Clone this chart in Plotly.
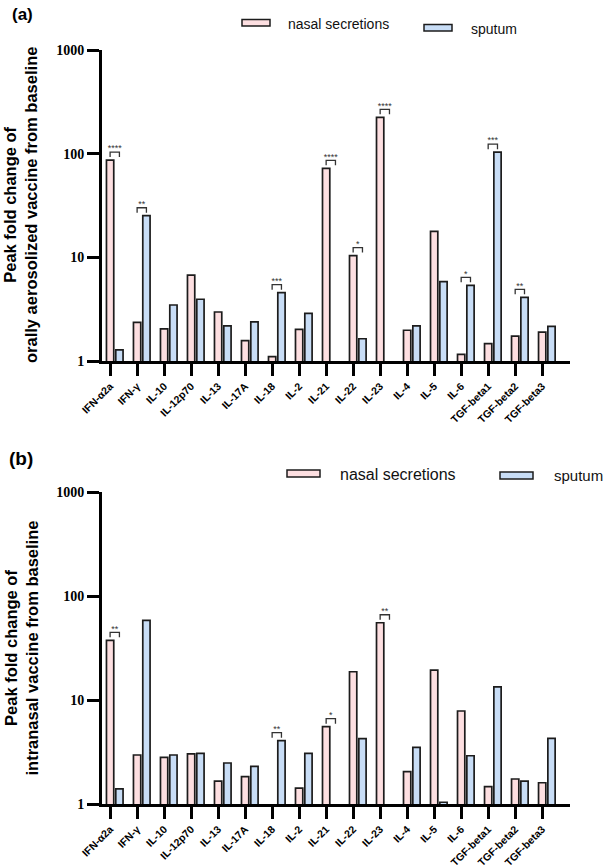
import plotly.graph_objects as go

# ---------------- data ----------------
categories = ["IFN-α2a", "IFN-γ", "IL-10", "IL-12p70", "IL-13", "IL-17A", "IL-18", "IL-2",
              "IL-21", "IL-22", "IL-23", "IL-4", "IL-5", "IL-6", "TGF-beta1", "TGF-beta2", "TGF-beta3"]

nasal_a = [86.7, 2.36, 2.04, 6.75, 2.97, 1.57, 1.10, 2.02, 72.2, 10.4, 224, 1.98, 17.8, 1.16, 1.47, 1.74, 1.90]
sputum_a = [1.28, 25.2, 3.47, 3.94, 2.18, 2.38, 4.56, 2.88, None, 1.64, None, 2.18, 5.82, 5.37, 103.5, 4.11, 2.16]
sig_a = ["****", "**", "", "", "", "", "***", "", "****", "*", "****", "", "", "*", "***", "**", ""]

nasal_b = [37.5, 2.96, 2.81, 3.03, 1.66, 1.83, None, 1.42, 5.54, 18.7, 55.3, 2.05, 19.4, 7.84, 1.47, 1.74, 1.60]
sputum_b = [1.40, 58.4, 2.96, 3.07, 2.48, 2.30, 4.06, 3.07, None, 4.25, None, 3.51, 1.04, 2.91, 13.4, 1.66, 4.28]
sig_b = ["**", "", "", "", "", "", "**", "", "*", "", "**", "", "", "", "", "", ""]

y_tick_vals = [1, 10, 100, 1000]
y_tick_text = ["1", "10", "100", "1000"]

series_names = ["nasal secretions", "sputum"]
titles = ["Peak fold change of<br>orally aerosolized vaccine from baseline",
          "Peak fold change of<br>intranasal vaccine from baseline"]

# ---------------- style ----------------
PINK = "#FDDFE1"
BLUE = "#C8DDF6"
EDGE = "#1c1c1c"
W, H = 608, 868
L, R, T, B = 102, 38, 50, 64
PW, PH = W - L - R, H - T - B


def px(x):
    return (x - L) / PW


def py(y):
    return (H - B - y) / PH


idx = list(range(len(categories)))
fig = go.Figure()

panels = [
    ("x", "y", nasal_a, sputum_a, sig_a),
    ("x2", "y2", nasal_b, sputum_b, sig_b),
]

F1 = 10 ** (8 / 104)   # bracket above tallest bar
F2 = 10 ** (5 / 104)   # bracket leg length
F3 = 10 ** (3 / 104)   # star offset

for xa, ya, nasal, sputum, sig in panels:
    fig.add_trace(go.Bar(x=idx, y=nasal, offset=-0.135, width=0.27, xaxis=xa, yaxis=ya,
                         marker=dict(color=PINK, line=dict(color=EDGE, width=1.7)),
                         name=series_names[0], showlegend=False))
    fig.add_trace(go.Bar(x=idx, y=sputum, offset=0.21, width=0.27, xaxis=xa, yaxis=ya,
                         marker=dict(color=BLUE, line=dict(color=EDGE, width=1.7)),
                         name=series_names[1], showlegend=False))
    bx, by, tx, ty, tt = [], [], [], [], []
    for i, s in enumerate(sig):
        if not s:
            continue
        top = max(v for v in (nasal[i], sputum[i]) if v is not None)
        yb = top * F1
        yl = yb / F2
        bx += [i, i, i + 0.345, i + 0.345, None]
        by += [yl, yb, yb, yl, None]
        tx.append(i + 0.1725)
        ty.append(yb * F3)
        tt.append(s)
    fig.add_trace(go.Scatter(x=bx, y=by, mode="lines", xaxis=xa, yaxis=ya,
                             line=dict(color="#333333", width=1.3), showlegend=False, hoverinfo="skip"))
    fig.add_trace(go.Scatter(x=tx, y=ty, mode="text", text=tt, textposition="middle center",
                             xaxis=xa, yaxis=ya, textfont=dict(family="Liberation Sans", size=9, color="#333333"),
                             showlegend=False, hoverinfo="skip"))

xaxis_common = dict(range=[-0.3, 17.03], tickmode="array", tickvals=idx, ticktext=categories,
                    tickangle=-45, showline=True, linewidth=3, linecolor="black",
                    ticks="outside", ticklen=12, tickwidth=3, tickcolor="black",
                    showgrid=False, zeroline=False, automargin=False,
                    tickfont=dict(family="Liberation Sans", size=10.5, color="black", weight="bold"))
yaxis_common = dict(type="log", range=[0, 3], tickmode="array", tickvals=y_tick_vals, ticktext=y_tick_text,
                    showline=True, linewidth=3, linecolor="black",
                    ticks="outside", ticklen=12, tickwidth=3, tickcolor="black",
                    showgrid=False, zeroline=False, automargin=False,
                    tickfont=dict(family="Liberation Serif", size=14, color="black", weight="bold"))

dom_a = [py(361), py(50)]
dom_b = [py(804), py(492)]

fig.update_layout(
    width=W, height=H,
    margin=dict(l=L, r=R, t=T, b=B, autoexpand=False),
    paper_bgcolor="white", plot_bgcolor="white",
    barmode="overlay",
    xaxis=dict(domain=[0, 1], anchor="y", **xaxis_common),
    yaxis=dict(domain=dom_a, anchor="x", **yaxis_common),
    xaxis2=dict(domain=[0, 1], anchor="y2", **xaxis_common),
    yaxis2=dict(domain=dom_b, anchor="x2", **yaxis_common),
    showlegend=False,
)

ann = []
shapes = []
# y-axis titles
for title, dom in zip(titles, [dom_a, dom_b]):
    ann.append(dict(text=title, textangle=-90, x=px(20.5), y=(dom[0] + dom[1]) / 2,
                    xref="paper", yref="paper", xanchor="center", yanchor="middle", showarrow=False,
                    font=dict(family="Liberation Sans", size=16.5, color="black", weight="bold")))
# panel labels
ann.append(dict(text="(a)", x=px(22), y=py(14), xref="paper", yref="paper", xanchor="center",
                yanchor="middle", showarrow=False,
                font=dict(family="Liberation Sans", size=17, color="black", weight="bold")))
ann.append(dict(text="(b)", x=px(21), y=py(458), xref="paper", yref="paper", xanchor="center",
                yanchor="middle", showarrow=False,
                font=dict(family="Liberation Sans", size=19, color="black", weight="bold")))

# custom legends: (rect x0, x1, y0, y1, color, text x, text y, text, size)
legend_items = [
    (242, 270, 19.5, 26, PINK, 286, 24, series_names[0], 14),
    (424, 452, 24.5, 31, BLUE, 469, 29, series_names[1], 14),
    (287, 320, 470, 477, PINK, 338, 474, series_names[0], 16),
    (500, 533, 472, 479, BLUE, 552, 475, series_names[1], 15),
]
for x0, x1, y0, y1, col, tx_, ty_, txt, sz in legend_items:
    shapes.append(dict(type="rect", xref="paper", yref="paper", x0=px(x0), x1=px(x1), y0=py(y1), y1=py(y0),
                       fillcolor=col, line=dict(color=EDGE, width=1.5)))
    ann.append(dict(text=txt, x=px(tx_), y=py(ty_), xref="paper", yref="paper", xanchor="left",
                    yanchor="middle", showarrow=False,
                    font=dict(family="Liberation Sans", size=sz, color="#111111")))

fig.update_layout(annotations=ann, shapes=shapes)
fig.write_html("out.html")
